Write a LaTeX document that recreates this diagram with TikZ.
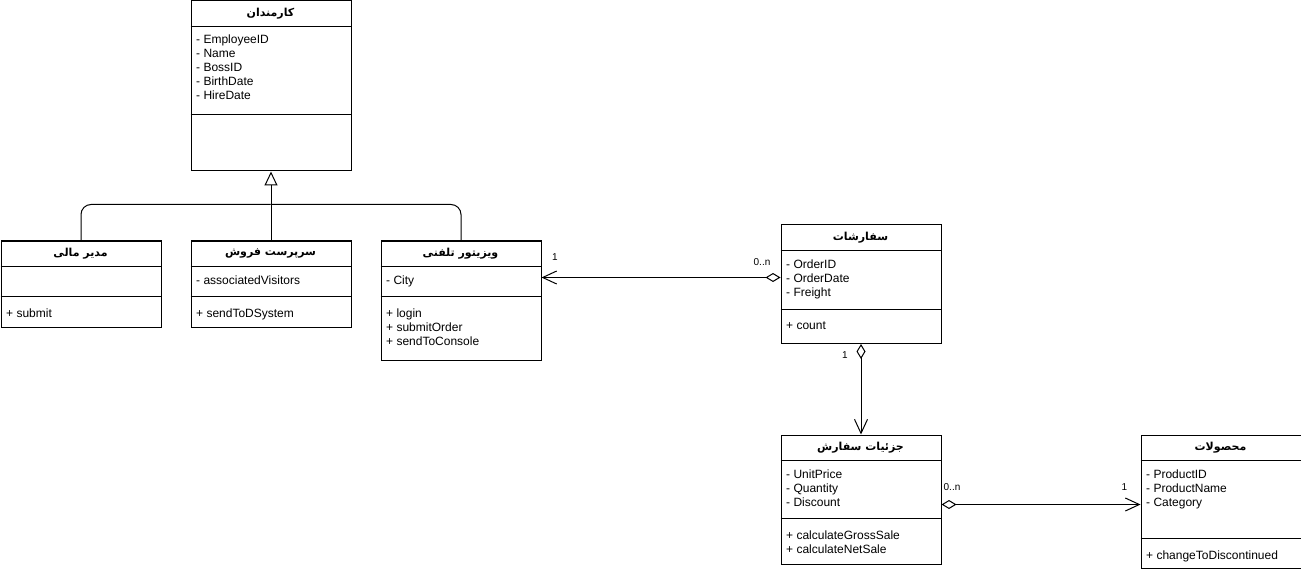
\documentclass[tikz,border=0pt]{standalone}
\usepackage{fontspec}
\setmainfont{Liberation Sans}
\newfontfamily\farsi[Script=Arabic]{DejaVu Sans}
\TeXXeTstate=1
\usetikzlibrary{arrows.meta,calc}

\tikzset{
  classbox/.style={draw, line width=1pt, anchor=north west, inner sep=0pt,
    minimum width=160pt, fill=white},
  classtitle/.style={inner sep=0pt, font=\farsi\bfseries\fontsize{11}{13}\selectfont},
  member/.style={anchor=base west, inner sep=0pt, font=\fontsize{12}{14}\selectfont},
  mult/.style={inner sep=0pt, font=\fontsize{10}{12}\selectfont},
  conn/.style={line width=1pt},
  gen/.style={conn, -{Triangle[open, length=14pt, width=13pt]}},
  assoc/.style={conn, {Diamond[open, length=15pt, width=9pt]}-{Straight Barb[length=14pt, width=13pt]}},
}

% member lines: #1 name prefix, #2 x, #3 first baseline, #4 list
\newcommand\umlmembers[4]{%
  \foreach \t [count=\i from 0] in {#4}
    \node[member] (#1-\i) at (#2, #3+14*\i) {\t};}

\begin{document}
\begin{tikzpicture}[x=1pt, y=-1pt]
\useasboundingbox (0,0) rectangle (1301,572);

% ---- Employees
\node[classbox, minimum height=170pt] (emp) at (190.5,0.5) {};
\draw[conn] (190.5,26.5) -- (350.5,26.5);
\draw[conn] (190.5,114.5) -- (350.5,114.5);
\node[classtitle] (emp-t) at (270.5,13.5) {\beginR کارمندان\endR};
\umlmembers{emp-a}{196}{44}{- EmployeeID,- Name,- BossID,- BirthDate,- HireDate}

% ---- Financial manager
\node[classbox, minimum height=86pt] (mdir) at (0.5,240.5) {};
\draw[conn] (0.5,266.5) -- (160.5,266.5);
\draw[conn] (0.5,296.5) -- (160.5,296.5);
\node[classtitle] (mdir-t) at (80.5,253.5) {\beginR مدیر مالی\endR};
\umlmembers{mdir-m}{6}{317.5}{+ submit}

% ---- Sales supervisor
\node[classbox, minimum height=86pt] (sales) at (190.5,240.5) {};
\draw[conn] (190.5,266.5) -- (350.5,266.5);
\draw[conn] (190.5,296.5) -- (350.5,296.5);
\node[classtitle] (sales-t) at (270.5,253.5) {\beginR سرپرست فروش\endR};
\umlmembers{sales-a}{196}{284.5}{- associatedVisitors}
\umlmembers{sales-m}{196}{317.5}{+ sendToDSystem}

% ---- Phone visitor
\node[classbox, minimum height=119pt] (visit) at (380.5,240.5) {};
\draw[conn] (380.5,266.5) -- (540.5,266.5);
\draw[conn] (380.5,296.5) -- (540.5,296.5);
\node[classtitle] (visit-t) at (460.5,253.5) {\beginR ویزیتور تلفنی\endR};
\umlmembers{visit-a}{386}{284.5}{- City}
\umlmembers{visit-m}{386}{317.5}{+ login,+ submitOrder,+ sendToConsole}

% ---- Orders
\node[classbox, minimum height=118.5pt] (ord) at (780.5,224.5) {};
\draw[conn] (780.5,250.5) -- (940.5,250.5);
\draw[conn] (780.5,309) -- (940.5,309);
\node[classtitle] (ord-t) at (860.5,237.5) {\beginR سفارشات\endR};
\umlmembers{ord-a}{786}{268.5}{- OrderID,- OrderDate,- Freight}
\umlmembers{ord-m}{786}{329.5}{+ count}

% ---- Order details
\node[classbox, minimum height=129pt] (det) at (780.5,434.5) {};
\draw[conn] (780.5,460.5) -- (940.5,460.5);
\draw[conn] (780.5,518.5) -- (940.5,518.5);
\node[classtitle] (det-t) at (860.5,447.5) {\beginR جزئیات سفارش\endR};
\umlmembers{det-a}{786}{478.5}{- UnitPrice,- Quantity,- Discount}
\umlmembers{det-m}{786}{539}{+ calculateGrossSale,+ calculateNetSale}

% ---- Products
\node[classbox, minimum height=133.5pt] (prod) at (1140.5,434.5) {};
\draw[conn] (1140.5,460.5) -- (1300.5,460.5);
\draw[conn] (1140.5,538.5) -- (1300.5,538.5);
\node[classtitle] (prod-t) at (1220.5,447.5) {\beginR محصولات\endR};
\umlmembers{prod-a}{1146}{478.5}{- ProductID,- ProductName,- Category}
\umlmembers{prod-m}{1146}{559}{+ changeToDiscontinued}

% ---- Generalization
\coordinate (bar) at (270.5,204.5);
\draw[conn, rounded corners=10pt] (mdir.north) |- (bar);
\draw[conn, rounded corners=10pt] (visit.north) |- (bar);
\draw[gen] (sales.north) -- (emp.south);

% ---- Associations
\coordinate (row1) at (0,277.5);
\coordinate (row3) at (0,504.5);
\draw[assoc] (ord.west |- row1) -- (visit.east |- row1);
\draw[assoc] (ord.south) -- (det.north);
\draw[assoc] (det.east |- row3) -- (prod.west |- row3);

% ---- Multiplicities
\node[mult] (m1) at (555,257) {1};
\node[mult] (m2) at (762,262.5) {0..n};
\node[mult] (m3) at (845,355) {1};
\node[mult] (m4) at (952,487) {0..n};
\node[mult] (m5) at (1124.5,487) {1};
\end{tikzpicture}
\end{document}
